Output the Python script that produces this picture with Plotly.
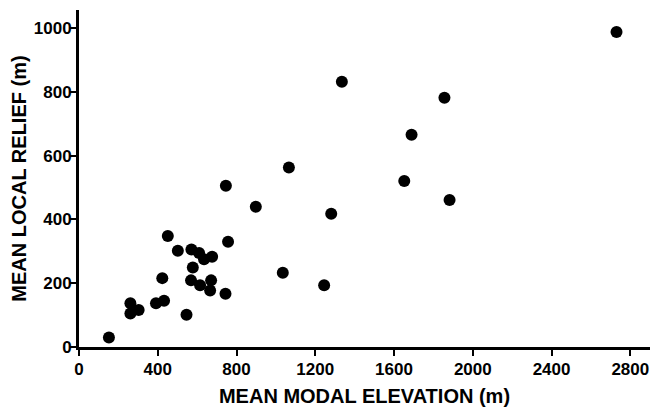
import plotly.graph_objects as go

elevation = [152, 261, 261, 303, 391, 432, 423, 451, 502, 546, 569, 571, 578, 610, 615,
             635, 666, 671, 676, 744, 746, 757, 898, 1035, 1066, 1245, 1281, 1335, 1652,
             1689, 1856, 1882, 2730]
relief = [30, 137, 105, 116, 137, 145, 216, 348, 302, 101, 209, 306, 249, 295, 194,
          275, 177, 209, 283, 167, 506, 330, 440, 233, 563, 194, 418, 832, 521,
          666, 782, 461, 988]

x_ticks = [0, 400, 800, 1200, 1600, 2000, 2400, 2800]
y_ticks = [0, 200, 400, 600, 800, 1000]

FONT = "Liberation Sans, Arial, Helvetica, sans-serif"

fig = go.Figure(go.Scatter(
    x=elevation, y=relief, mode="markers",
    marker=dict(color="black", size=12, line=dict(width=0)),
    hoverinfo="skip",
))

fig.update_layout(
    width=664, height=407,
    margin=dict(l=79, r=14, t=10, b=60),
    paper_bgcolor="white", plot_bgcolor="white",
    showlegend=False,
    font=dict(family=FONT, color="black", size=17, weight="bold"),
)
fig.update_xaxes(
    range=[0, 2900], tickvals=x_ticks, ticktext=[str(v) for v in x_ticks],
    showgrid=False, zeroline=False, automargin=False,
    showline=True, linewidth=3, linecolor="black",
    ticks="outside", ticklen=6, tickwidth=2, tickcolor="black",
    tickfont=dict(family=FONT, size=17, weight="bold"),
    ticklabelstandoff=-1,
    title=dict(text="MEAN MODAL ELEVATION (m)", standoff=11,
               font=dict(family=FONT, size=20, weight="bold")),
)
fig.update_yaxes(
    range=[0, 1057], tickvals=y_ticks, ticktext=[str(v) for v in y_ticks],
    showgrid=False, zeroline=False, automargin=False,
    showline=True, linewidth=3, linecolor="black",
    ticks="outside", ticklen=6, tickwidth=2, tickcolor="black",
    tickfont=dict(family=FONT, size=17, weight="bold"),
    ticklabelstandoff=-5,
    title=dict(text="MEAN LOCAL RELIEF (m)", standoff=2,
               font=dict(family=FONT, size=20, weight="bold")),
)

fig.write_html("out.html")
